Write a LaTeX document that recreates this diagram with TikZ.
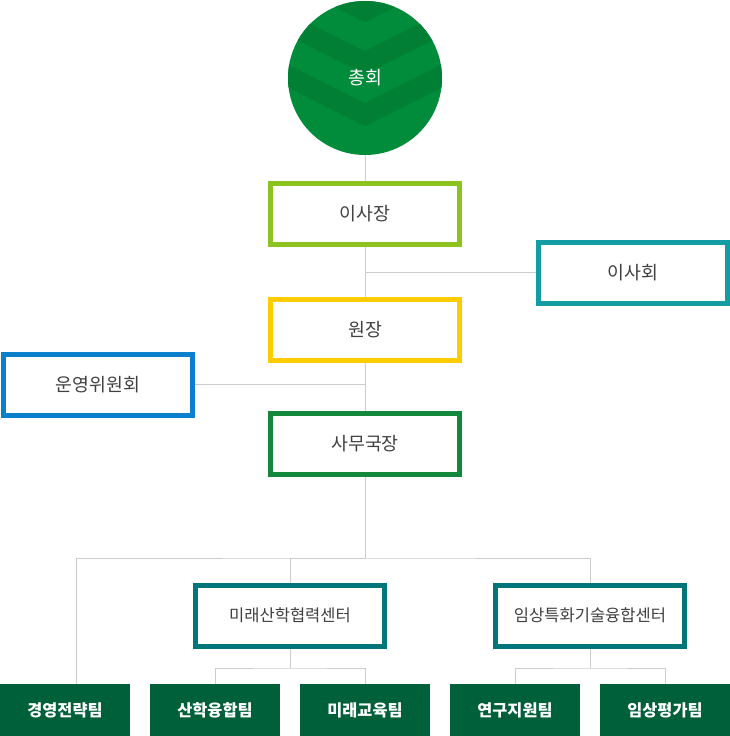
\documentclass[tikz,border=0pt]{standalone}
\usepackage{fontspec}
\setmainfont{Noto Sans CJK KR}
\usetikzlibrary{backgrounds}
\definecolor{chevlight}{HTML}{008C3A}
\definecolor{chevdark}{HTML}{007F35}
\definecolor{limegreen}{HTML}{8CC31E}
\definecolor{boardteal}{HTML}{139DA2}
\definecolor{gold}{HTML}{FFCC00}
\definecolor{opblue}{HTML}{0A7FCB}
\definecolor{officegreen}{HTML}{13873B}
\definecolor{centerteal}{HTML}{00767B}
\definecolor{teamgreen}{HTML}{00603A}
\definecolor{linegray}{HTML}{CCCCCC}
\definecolor{textgray}{HTML}{404040}
\begin{document}
\begin{tikzpicture}[
        x=0.75pt, y=-0.75pt,
        every node/.style={text centered, text=textgray, font=\fontsize{13.75}{16}\selectfont},
        box/.style={draw, fill=white, line width=3.75pt, minimum width=141.75pt, minimum height=45.75pt},
        centerbox/.style={box, draw=centerteal, font=\fontsize{12.4}{14}\selectfont},
        team/.style={fill=teamgreen, minimum width=97.5pt, minimum height=39pt, text=white, font=\bfseries\fontsize{12.25}{14}\selectfont},
        ar/.style={-, draw=linegray, line width=0.75pt},
    ]
    \useasboundingbox (0,0) rectangle (730,736);

    \node[circle, fill=chevlight, minimum size=115.5pt, inner sep=0pt](hoe) at (365,78) {};
    \begin{scope}
    \clip (hoe.center) circle [radius=77];
    \foreach \k in {-1,0,1,2}
        \fill[chevdark] (265,52*\k-51) -- (365,52*\k-1) -- (465,52*\k-51)
            -- (465,52*\k-28) -- (365,52*\k+22) -- (265,52*\k-28) -- cycle;
    \end{scope}
    \node[text=white, font=\fontsize{13.75}{16}\selectfont](hoelabel) at (hoe.center) {총회};

    \node[box, draw=limegreen](isajang) at (365,214) {이사장};
    \node[box, draw=boardteal](isahoe) at (633,272.5) {이사회};
    \node[box, draw=gold](wonjang) at (365,330) {원장};
    \node[box, draw=opblue](unyoung) at (98,384.5) {운영위원회};
    \node[box, draw=officegreen](samu) at (365,444) {사무국장};

    \node[centerbox](cen1) at (290,615.5) {미래산학협력센터};
    \node[centerbox](cen2) at (590,615.5) {임상특화기술융합센터};

    \node[team](team1) at (65,710) {경영전략팀};
    \node[team](team2) at (215,710) {산학융합팀};
    \node[team](team3) at (365,710) {미래교육팀};
    \node[team](team4) at (515,710) {연구지원팀};
    \node[team](team5) at (665,710) {임상평가팀};

    \coordinate (split) at (365,558);
    \coordinate (sub1) at (290,668);
    \coordinate (sub2) at (590,668);

    \begin{scope}[on background layer]
    \path[ar]
    (hoe) edge (isajang)
    (isajang) edge (wonjang)
    (wonjang) edge (samu)
    (isahoe.west) edge (isahoe.west -| isajang.south)
    (unyoung.east) edge (unyoung.east -| wonjang.south)
    (samu) edge (split)
    (cen1) edge (sub1)
    (cen2) edge (sub2)
    ;
    \draw[ar] ([xshift=8.25pt]team1.north) |- (split) -| (cen2.north);
    \draw[ar] (split) -| (cen1.north);
    \draw[ar] (team2.north) |- (sub1) -| (team3.north);
    \draw[ar] (team4.north) |- (sub2) -| (team5.north);
    \end{scope}
\end{tikzpicture}
\end{document}
